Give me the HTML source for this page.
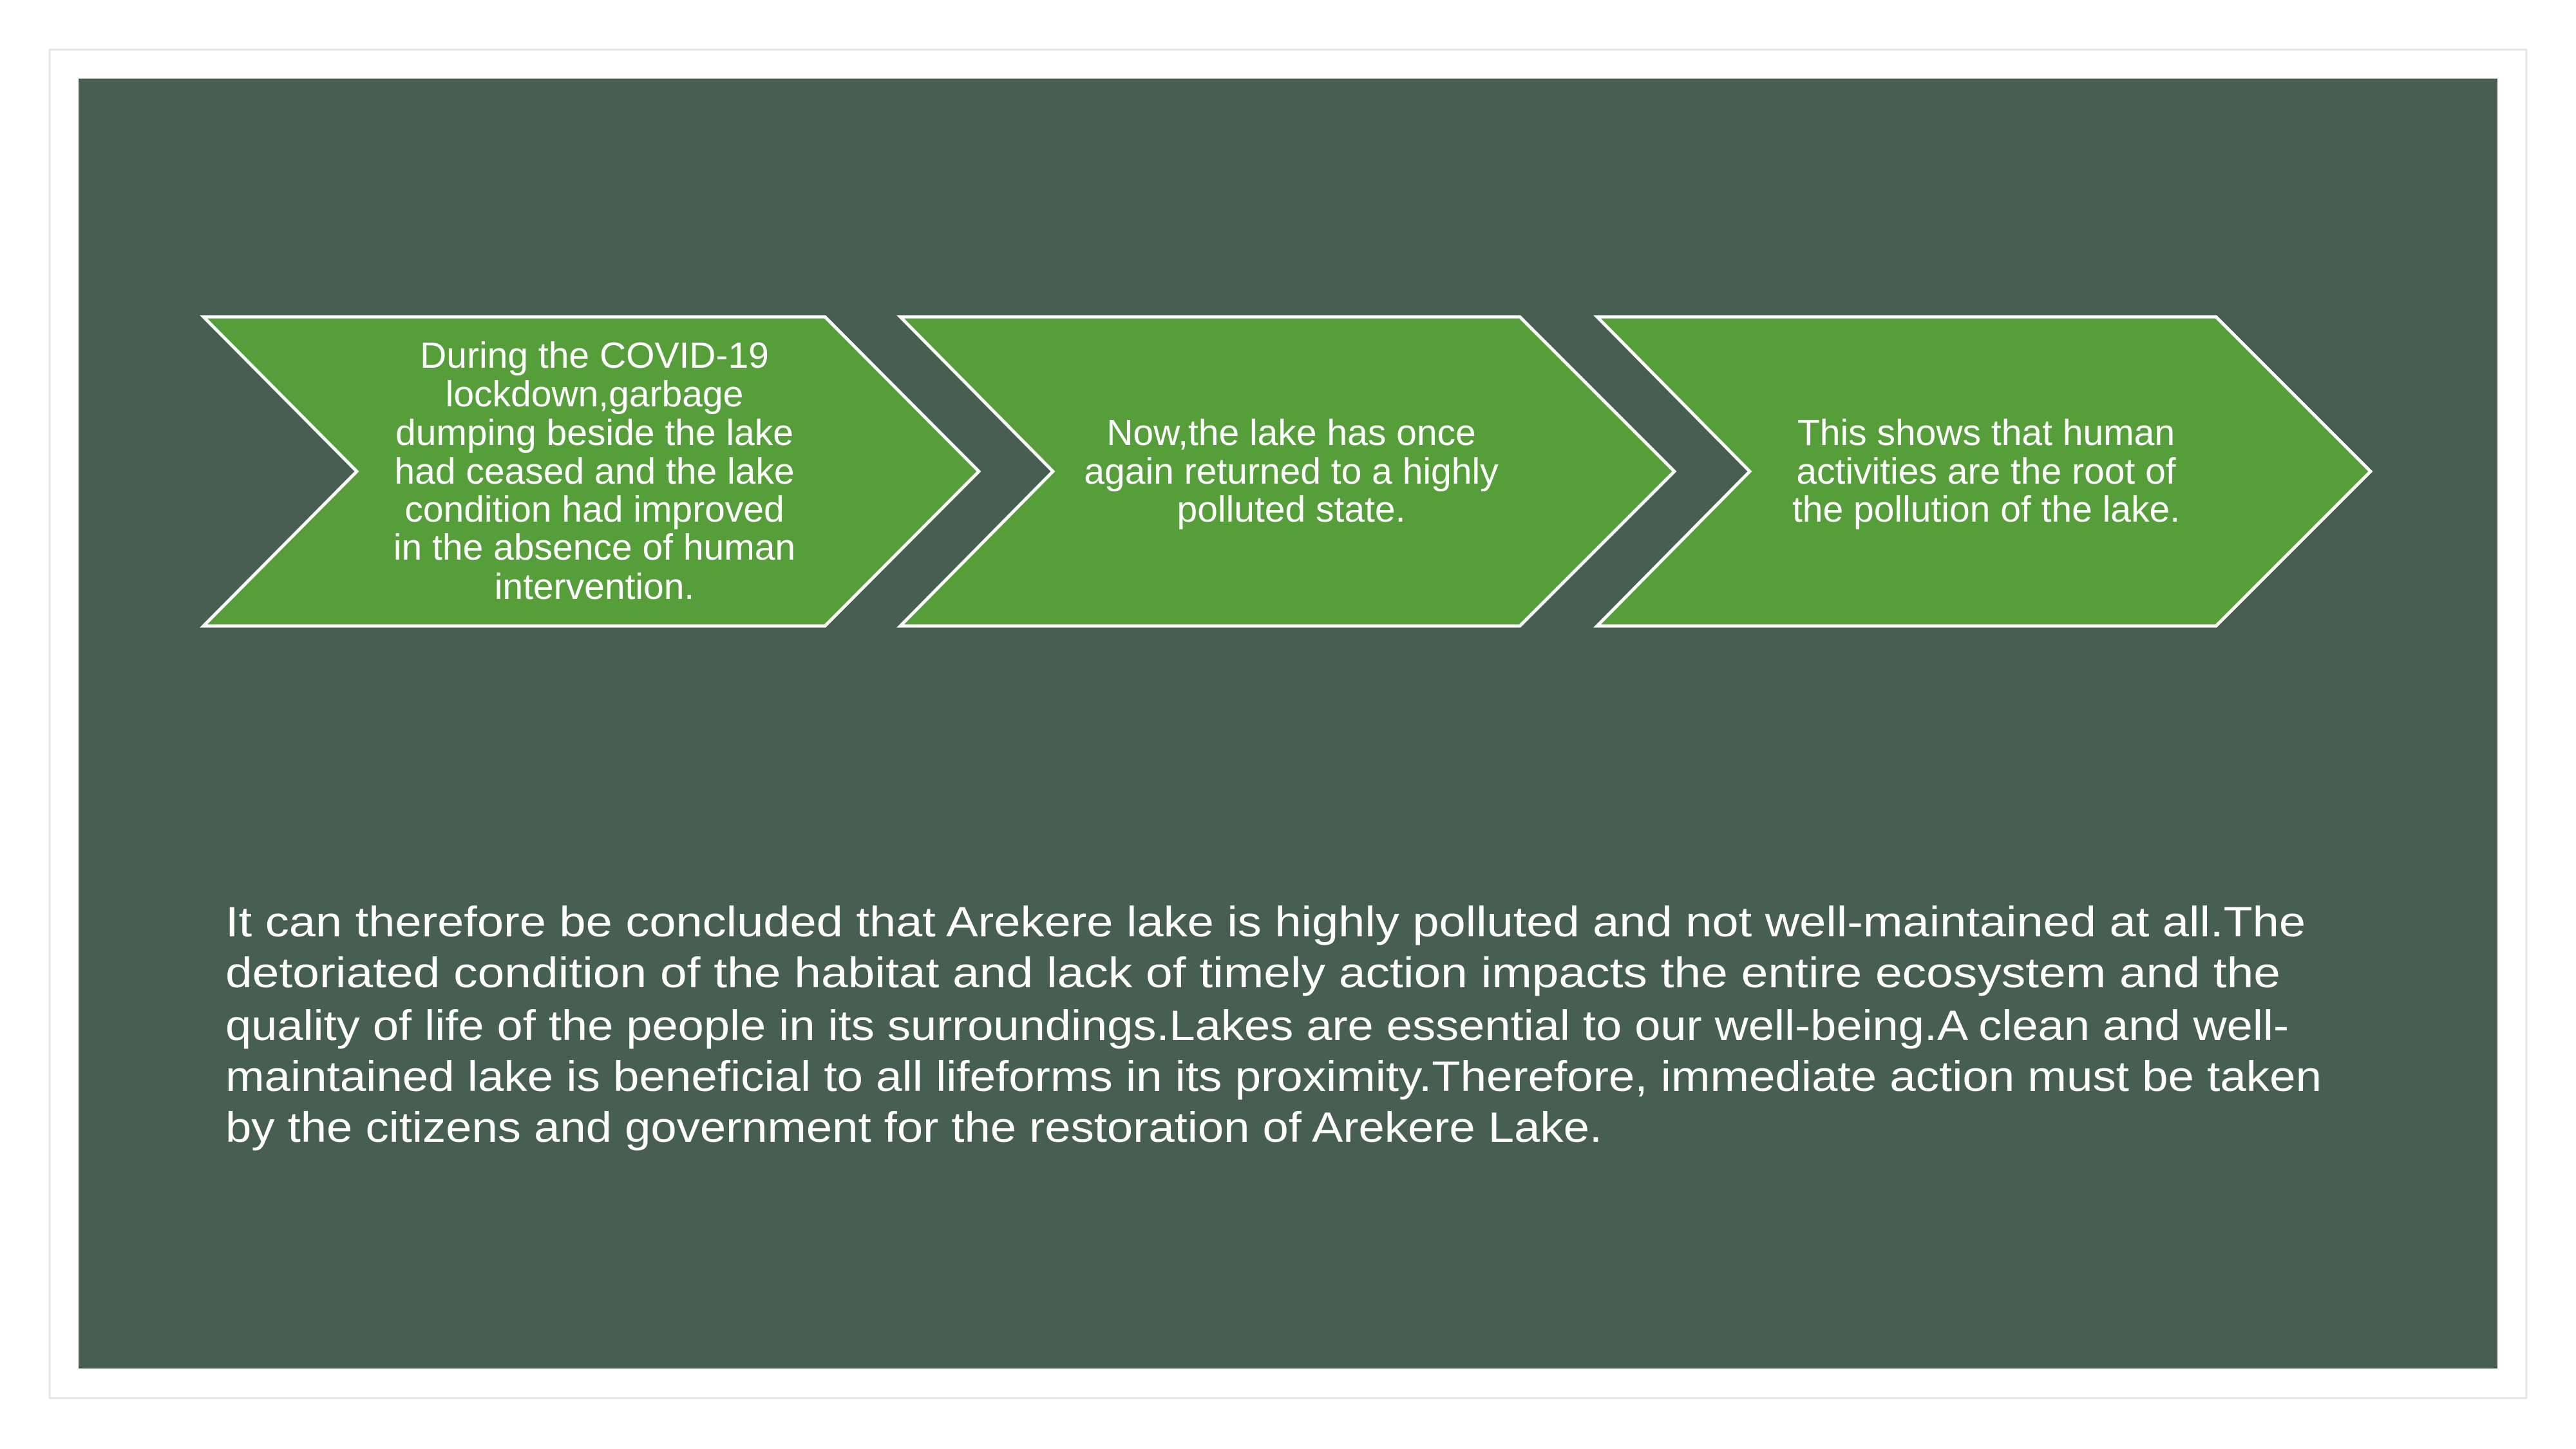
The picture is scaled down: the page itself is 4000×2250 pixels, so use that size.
<!DOCTYPE html>
<html><head><meta charset="utf-8"><style>
html,body{margin:0;padding:0;background:#fff;}
svg{display:block;}
text{font-family:"Liberation Sans",sans-serif;fill:#fff;}
</style></head><body>
<svg width="4000" height="2250" viewBox="0 0 4000 2250" xmlns="http://www.w3.org/2000/svg">
<rect x="0" y="0" width="4000" height="2250" fill="#fff"/>
<rect x="77" y="77" width="3846" height="2094" fill="#fff" stroke="#e4e4e4" stroke-width="3"/>
<rect x="122" y="122" width="3756" height="2003" fill="#465f50"/>
<g fill="#559e3a" stroke="#fff" stroke-width="5" stroke-linejoin="miter">
<polygon points="316,492 1281,492 1520,732 1281,972 316,972 554,732"/>
<polygon points="1398,492 2360,492 2600,732 2360,972 1398,972 1635,732"/>
<polygon points="2480,492 3441,492 3681,732 3441,972 2480,972 2717,732"/>
</g>
<g font-size="57" text-anchor="middle">
<text x="923" y="571">During the COVID-19</text>
<text x="923" y="631">lockdown,garbage</text>
<text x="923" y="691">dumping beside the lake</text>
<text x="923" y="751">had ceased and the lake</text>
<text x="923" y="810">condition had improved</text>
<text x="923" y="869">in the absence of human</text>
<text x="923" y="930">intervention.</text>
<text x="2005" y="691">Now,the lake has once</text>
<text x="2005" y="751">again returned to a highly</text>
<text x="2005" y="810">polluted state.</text>
<text x="3084" y="691">This shows that human</text>
<text x="3084" y="751">activities are the root of</text>
<text x="3084" y="810">the pollution of the lake.</text>
</g>
<g font-size="66">
<text x="350" y="1454" textLength="3230" lengthAdjust="spacingAndGlyphs">It can therefore be concluded that Arekere lake is highly polluted and not well-maintained at all.The</text>
<text x="350" y="1533" textLength="3191" lengthAdjust="spacingAndGlyphs">detoriated condition of the habitat and lack of timely action impacts the entire ecosystem and the</text>
<text x="350" y="1615" textLength="3204" lengthAdjust="spacingAndGlyphs">quality of life of the people in its surroundings.Lakes are essential to our well-being.A clean and well-</text>
<text x="350" y="1694" textLength="3255" lengthAdjust="spacingAndGlyphs">maintained lake is beneficial to all lifeforms in its proximity.Therefore, immediate action must be taken</text>
<text x="350" y="1773" textLength="2138" lengthAdjust="spacingAndGlyphs">by the citizens and government for the restoration of Arekere Lake.</text>
</g>
</svg>
</body></html>
